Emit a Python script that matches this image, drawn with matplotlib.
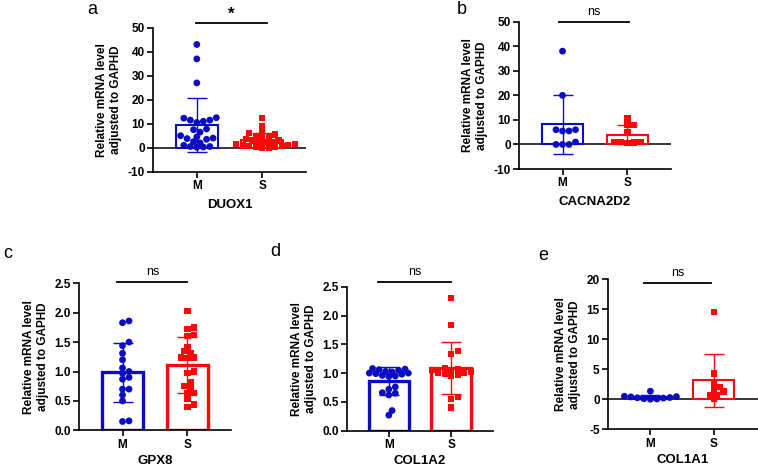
import numpy as np
import matplotlib
matplotlib.use("Agg")
import matplotlib.pyplot as plt

plt.rcParams['font.family'] = ['Liberation Sans', 'DejaVu Sans']
plt.rcParams['axes.unicode_minus'] = False

groups = ["M", "S"]
genes = ["DUOX1", "CACNA2D2", "GPX8", "COL1A2", "COL1A1"]
letters = ["a", "b", "c", "d", "e"]
signif = ["*", "ns", "ns", "ns", "ns"]

duox1_m = [43, 37, 27, 12.5, 12.3, 11.5, 11, 11.5, 10.5, 7.8, 7.5, 6.5, 5, 4.5,
           4, 3.5, 3.8, 2.5, 2, 1, 0.5, 0.3, 0.2, 0.5]
duox1_s = [12.5, 9, 6.5, 6, 5.5, 5, 4.5, 4, 3.5, 3, 3, 2.5, 2, 2, 1.5, 1.5,
           1, 1, 0.8, 0.6, 0.4, 0.2, 0.1, 0]
cacna2d2_m = [38, 20, 6, 6, 5.5, 5.5, 1, 0, 0, 0]
cacna2d2_s = [10.6, 7.9, 7.9, 5.1, 1, 1, 0.5, 1, 0.8]
gpx8_m = [1.83, 1.86, 1.5, 1.44, 1.31, 1.2, 1.06, 1.0, 0.97, 0.9, 0.87, 0.7,
          0.7, 0.6, 0.5, 0.15, 0.16]
gpx8_s = [2.03, 1.75, 1.72, 1.60, 1.62, 1.42, 1.35, 1.31, 1.24, 1.23, 1.24,
          1.0, 0.97, 0.81, 0.75, 0.71, 0.63, 0.63, 0.54, 0.44, 0.40]
col1a2_m = [1.08, 1.07, 1.06, 1.05, 1.03, 1.02, 1.0, 1.0, 0.99, 0.98, 0.96,
            0.95, 0.94, 0.76, 0.72, 0.66, 0.65, 0.62, 0.35, 0.27]
col1a2_s = [2.3, 1.84, 1.38, 1.33, 1.08, 1.06, 1.05, 1.04, 1.03, 1.01, 1.0,
            0.99, 0.97, 0.95, 0.58, 0.55, 0.4]
col1a1_m = [1.35, 0.5, 0.45, 0.4, 0.3, 0.25, 0.2, 0.1, 0.05, 0.02]
col1a1_s = [14.6, 4.3, 2.8, 2.1, 1.8, 1.3, 0.7, 0.7, 0.0]

data = [(duox1_m, duox1_s), (cacna2d2_m, cacna2d2_s), (gpx8_m, gpx8_s),
        (col1a2_m, col1a2_s), (col1a1_m, col1a1_s)]

ylims = [(-10, 50), (-10, 50), (0, 2.5), (0, 2.5), (-5, 20)]
yticks = [np.arange(-10, 51, 10), np.arange(-10, 51, 10), np.arange(0, 2.51, 0.5),
          np.arange(0, 2.51, 0.5), np.arange(-5, 21, 5)]
sig_y = [52, 49.7, 2.52, 2.58, 19.4]
sig_x = [(-0.02, 1.08), (-0.06, 1.03), (-0.08, 1.0), (-0.18, 1.0), (-0.1, 0.96)]

# axes boxes in pixels: left, top, right, bottom
boxes = [(153, 27.7, 306, 171.7), (519, 21.7, 671, 169), (79, 283.3, 231, 430.3),
         (347, 286.7, 493, 430.7), (608, 279.3, 758, 429.3)]
letter_pos = [(92, 10), (462, 10), (8, 253), (275, 252), (543, 256)]

W, H = 758, 468
blue = '#0c0cc4'
red = '#f80a0a'

fig = plt.figure(figsize=(W / 100, H / 100), dpi=100)


def swarm(ax, vals, d=6.5):
    # GraphPad-like horizontal spreading, points may overlap a bit
    vals = np.asarray(vals, float)
    tr = ax.transData
    ypx = tr.transform(np.column_stack([np.zeros(len(vals)), vals]))[:, 1]
    ppu = tr.transform((1, 0))[0] - tr.transform((0, 0))[0]
    order = np.argsort(ypx)
    placed = []
    off = np.zeros(len(vals))
    cands = [0.0]
    for j in range(1, 30):
        cands += [j * d * 0.5, -j * d * 0.5]
    for i in order:
        for c in cands:
            ok = True
            for (px, py) in placed:
                if (px - c) ** 2 + (py - ypx[i]) ** 2 < (d * 0.75) ** 2:
                    ok = False
                    break
            if ok:
                off[i] = c
                placed.append((c, ypx[i]))
                break
    return off / ppu


for k in range(5):
    l, t, r, b = boxes[k]
    ax = fig.add_axes([l / W, 1 - b / H, (r - l) / W, (b - t) / H])
    ax.set_xlim(-0.67, 1.67 if k != 4 else 1.7)
    ax.set_ylim(*ylims[k])
    thick = 2.4 if k in (2, 3) else 1.5
    if ylims[k][0] < 0:
        ax.axhline(0, color='black', lw=1.1, zorder=1.5)
    for g, (vals, col, mk) in enumerate(zip(data[k], [blue, red], ['o', 's'])):
        v = np.asarray(vals, float)
        m, sd = v.mean(), v.std(ddof=1)
        ax.bar(g, m, width=0.64, fill=False, edgecolor=col, linewidth=thick, zorder=2)
        ax.errorbar(g, m, yerr=sd, color=col, lw=1.0, capsize=7, capthick=1.0, zorder=3)
        ax.scatter(g + swarm(ax, v), v, s=24 if mk == 'o' else 21, marker=mk,
                   color=col, edgecolors='none', zorder=4, clip_on=False)
    ax.set_yticks(yticks[k])
    if k in (2, 3):
        ax.set_yticklabels([f"{t:.1f}" for t in yticks[k]])
    ax.set_xticks([0, 1])
    ax.set_xticklabels(groups)
    for s in ['top', 'right']:
        ax.spines[s].set_visible(False)
    for s in ['left', 'bottom']:
        ax.spines[s].set_linewidth(1.2)
    ax.tick_params(width=1.2, length=4, labelsize=8.5, pad=2)
    for lab in ax.get_xticklabels() + ax.get_yticklabels():
        lab.set_fontweight('bold')
    ax.set_ylabel("Relative mRNA level\nadjusted to GAPHD", fontsize=8.5,
                  fontweight='bold', labelpad=4)
    ax.set_xlabel(genes[k], fontsize=9.5, fontweight='bold',
                  labelpad=5 if k < 2 else 3)
    x0, x1 = sig_x[k]
    ax.plot([x0, x1], [sig_y[k], sig_y[k]], color='black', lw=1.3, clip_on=False)
    if signif[k] == '*':
        ax.annotate('*', xy=((x0 + x1) / 2, sig_y[k]), xytext=(0, 1),
                    textcoords='offset points', ha='center', va='bottom',
                    fontsize=12, fontweight='bold', annotation_clip=False)
    else:
        ax.annotate('ns', xy=((x0 + x1) / 2, sig_y[k]), xytext=(0, 3),
                    textcoords='offset points', ha='center', va='bottom',
                    fontsize=9, annotation_clip=False)
    lx, ly = letter_pos[k]
    fig.text(lx / W, 1 - ly / H, letters[k], fontsize=13, ha='center', va='center')

fig.savefig("out.png", dpi=100)
